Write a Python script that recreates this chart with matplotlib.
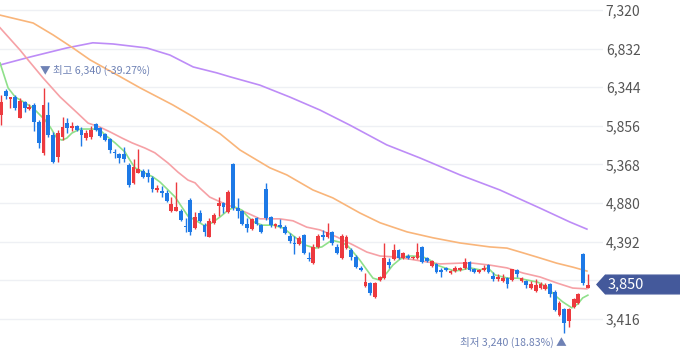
import numpy as np
import matplotlib
matplotlib.use("Agg")
import matplotlib.pyplot as plt

plt.rcParams['font.family'] = ['Noto Sans CJK KR', 'DejaVu Sans']

# daily candles (open / high / low / close)
opens = [5995, 6290, 6195, 6220, 5955, 6155, 6070, 6120, 5905, 5515,
         5995, 5740, 5460, 5715, 5890, 5830, 5855, 5805, 5700, 5715,
         5880, 5830, 5755, 5690, 5525, 5500, 5500, 5360, 5135, 5260,
         5285, 5260, 5195, 5045, 5030, 5005, 4780, 4780, 4780, 4590,
         4920, 4565, 4755, 4600, 4450, 4630, 4845, 4880, 4765, 5375,
         4815, 4780, 4615, 4550, 4690, 4600, 5055, 4705, 4590, 4600,
         4575, 4465, 4375, 4360, 4475, 4185, 4120, 4325, 4475, 4450,
         4515, 4325, 4185, 4310, 4285, 4200, 4060, 3830, 3870, 3690,
         3905, 3930, 4135, 4170, 4285, 4185, 4210, 4185, 4185, 4325,
         4185, 4085, 4110, 4035, 4060, 3995, 4020, 4035, 4060, 4135,
         4045, 4010, 4035, 4095, 3960, 3920, 3895, 3930, 3905, 4035,
         3895, 3895, 3805, 3770, 3805, 3795, 3855, 3755, 3465, 3540,
         3390, 3565, 3615, 4235, 3805]
highs = [6245, 6320, 6225, 6245, 6210, 6170, 6130, 6145, 5930, 6340,
         6155, 5780, 5805, 5970, 5955, 5905, 5865, 5840, 5805, 5855,
         5890, 5840, 5765, 5700, 5565, 5515, 5590, 5385, 5435, 5565,
         5310, 5310, 5220, 5110, 5095, 5045, 4955, 5145, 4805, 4690,
         4945, 4765, 4790, 4630, 4690, 4755, 4955, 4895, 5045, 5385,
         4945, 4790, 4690, 4690, 4705, 4615, 5135, 4715, 4630, 4680,
         4600, 4500, 4465, 4465, 4490, 4260, 4360, 4490, 4540, 4630,
         4525, 4360, 4490, 4475, 4310, 4225, 4085, 3995, 3880, 3880,
         3960, 4375, 4185, 4360, 4300, 4260, 4235, 4210, 4375, 4335,
         4200, 4160, 4120, 4060, 4070, 4035, 4085, 4070, 4185, 4145,
         4060, 4045, 4095, 4110, 4010, 3985, 3985, 3945, 4050, 4040,
         3945, 3905, 3895, 3920, 3880, 3870, 3870, 3780, 3640, 3555,
         3555, 3680, 3740, 4250, 3985]
lows = [5865, 6200, 6080, 6055, 5950, 6030, 6055, 5790, 5575, 5485,
        5715, 5385, 5400, 5675, 5765, 5790, 5790, 5600, 5675, 5690,
        5790, 5715, 5665, 5515, 5450, 5385, 5400, 5085, 5120, 5255,
        5195, 5145, 5020, 5020, 4955, 4895, 4765, 4775, 4655, 4515,
        4475, 4550, 4640, 4465, 4445, 4615, 4715, 4755, 4755, 4790,
        4690, 4600, 4515, 4540, 4600, 4500, 4665, 4575, 4565, 4565,
        4490, 4375, 4235, 4350, 4235, 4145, 4110, 4310, 4410, 4440,
        4350, 4235, 4170, 4300, 4160, 4060, 4020, 3820, 3715, 3680,
        3895, 3920, 4060, 4160, 4170, 4170, 4170, 4170, 4170, 4120,
        4135, 4070, 3995, 3945, 4020, 3985, 4010, 4020, 4045, 4020,
        3995, 3995, 4020, 3995, 3895, 3895, 3880, 3805, 3895, 3945,
        3880, 3805, 3795, 3755, 3795, 3780, 3690, 3515, 3450, 3240,
        3315, 3555, 3605, 3845, 3800]
closes = [6155, 6230, 6220, 6080, 6170, 6080, 6095, 5905, 5640, 6120,
          5740, 5400, 5765, 5840, 5830, 5855, 5805, 5740, 5765, 5805,
          5805, 5730, 5675, 5550, 5515, 5450, 5435, 5110, 5335, 5310,
          5210, 5210, 5055, 5070, 5005, 4905, 4870, 4830, 4665, 4575,
          4515, 4705, 4655, 4515, 4655, 4730, 4880, 4830, 5020, 4815,
          4780, 4615, 4565, 4680, 4615, 4515, 4690, 4600, 4615, 4575,
          4500, 4400, 4360, 4440, 4250, 4170, 4325, 4465, 4450, 4515,
          4375, 4250, 4465, 4450, 4200, 4070, 4035, 3880, 3740, 3870,
          3945, 4185, 4095, 4285, 4185, 4250, 4185, 4200, 4260, 4135,
          4145, 4145, 4010, 4010, 4035, 4020, 4060, 4060, 4135, 4035,
          4010, 4035, 4060, 4010, 3920, 3945, 3930, 3855, 4045, 3985,
          3930, 3845, 3855, 3845, 3855, 3845, 3730, 3530, 3615, 3365,
          3540, 3665, 3730, 3870, 3850]

# moving averages (candle index, price)
ma5_x = [-0.2, 1.5, 3.0, 5.1, 6.8, 8.2, 9.3, 10.4, 11.8, 12.9, 13.9, 15.0, 16.7,
         19.4, 20.9, 22.0, 24.1, 26.2, 27.2, 28.3, 30.4, 32.1, 33.6, 35.3, 36.8,
         38.2, 39.5, 41.0, 43.1, 44.6, 46.3, 48.0, 49.4, 50.9, 52.2, 53.7, 55.3,
         57.5, 59.6, 61.0, 62.1, 64.2, 66.3, 67.8, 69.9, 71.6, 73.1, 74.4, 75.8,
         77.3, 78.6, 80.1, 81.5, 82.8, 84.3, 85.8, 87.0, 89.1, 90.6, 92.1, 93.8,
         95.9, 97.4, 99.1, 101.2, 102.9, 104.4, 107.1, 109.2, 111.3, 113.4, 115.3,
         117.0, 118.7, 120.6, 121.9, 122.9, 124.0]
ma5_y = [6650, 6335, 6220, 6145, 6080, 5995, 5930, 5840, 5700, 5675, 5700, 5765, 5815,
         5815, 5805, 5740, 5640, 5525, 5425, 5325, 5260, 5210, 5145, 5045, 4955,
         4830, 4715, 4665, 4590, 4630, 4705, 4790, 4830, 4790, 4705, 4630, 4600,
         4600, 4565, 4500, 4450, 4350, 4310, 4325, 4410, 4385, 4350, 4260, 4160,
         4035, 3930, 3905, 3995, 4095, 4170, 4210, 4210, 4200, 4160, 4095, 4060,
         4020, 4035, 4060, 4035, 4060, 3970, 3930, 3930, 3905, 3880, 3820,
         3715, 3630, 3555, 3605, 3680, 3715]
ma20_x = [-0.2, 4.0, 5.7, 8.9, 12.5, 16.1, 18.4, 20.9, 23.0, 25.6, 27.7, 30.4, 32.5,
          35.3, 37.4, 39.5, 41.0, 42.0, 44.1, 46.3, 49.0, 52.0, 54.7, 58.9, 61.7,
          64.6, 67.4, 71.0, 74.4, 77.3, 80.1, 82.8, 86.4, 90.0, 92.7, 97.0, 99.7,
          103.3, 106.9, 110.3, 113.9, 117.4, 120.8, 123.8]
ma20_y = [7095, 6815, 6690, 6460, 6220, 6020, 5890, 5840, 5780, 5700, 5640, 5575, 5515,
          5385, 5270, 5170, 5135, 5070, 4955, 4895, 4830, 4755, 4680, 4680, 4655,
          4575, 4540, 4450, 4350, 4260, 4210, 4200, 4170, 4135, 4110, 4120, 4120,
          4095, 4060, 3995, 3945, 3870, 3805, 3795]
ma60_x = [-0.2, 6.8, 11.0, 15.2, 18.8, 24.5, 29.4, 36.3, 40.6, 46.3, 50.5, 56.8,
          60.4, 65.9, 70.1, 75.8, 80.1, 85.8, 91.3, 97.0, 103.3, 106.9, 110.3,
          113.9, 117.4, 120.8, 123.8]
ma60_y = [7255, 7155, 7005, 6840, 6690, 6500, 6335, 6120, 5970, 5755, 5550, 5325,
          5235, 5045, 4945, 4755, 4630, 4515, 4440, 4375, 4325, 4310, 4250,
          4185, 4120, 4070, 4020]
ma120_x = [-0.2, 6.1, 13.9, 19.4, 23.7, 30.8, 35.7, 40.6, 45.6, 48.4, 54.7, 61.0,
           67.4, 73.7, 81.5, 88.5, 97.0, 105.4, 113.9, 120.2, 123.8]
ma120_y = [6625, 6725, 6840, 6905, 6890, 6840, 6750, 6600, 6525, 6475, 6370, 6220,
           6055, 5865, 5615, 5450, 5235, 5045, 4815, 4640, 4550]

yticks = [3416, 3904, 4392, 4880, 5368, 5856, 6344, 6832, 7320]
last_price = 3850

RED = '#ec3a3f'
BLUE = '#1d79e6'

fig = plt.figure(figsize=(6.8, 3.58), dpi=100)
ax = fig.add_axes([0, 0, 603 / 680, 1])

o = np.array(opens); h = np.array(highs); l = np.array(lows); c = np.array(closes)
x = np.arange(len(c))
col = np.where(c >= o, RED, BLUE)

ax.plot(ma120_x, ma120_y, color='#bd8cf7', lw=1.2, zorder=2)
ax.plot(ma60_x, ma60_y, color='#f9b57a', lw=1.2, zorder=2)
ax.plot(ma20_x, ma20_y, color='#f6a1a6', lw=1.2, zorder=2)
ax.plot(ma5_x, ma5_y, color='#8fe08a', lw=1.2, zorder=2)

ax.vlines(x, l, h, colors=col, lw=1, zorder=3)
ax.bar(x, np.maximum(np.abs(c - o), 12), bottom=np.minimum(o, c), width=0.8,
       color=col, linewidth=0, zorder=4)

ax.set_xlim(-0.21, 127.2)
ax.set_ylim(2921, 7446)
for s in ax.spines.values():
    s.set_visible(False)
ax.set_xticks([])
ax.set_yticks(yticks)
ax.set_yticklabels([f'{v:,}' for v in yticks])
ax.yaxis.tick_right()
ax.tick_params(axis='y', length=0, pad=2, labelsize=10, labelcolor='#555555')
ax.grid(axis='y', color='#eef0f4', lw=1)
ax.set_axisbelow(True)

hi = int(np.argmax(h)); lo = int(np.argmin(l))
ax.text(hi - 0.7, 6560, '▼ 최고 6,340 (-39.27%)', ha='left', va='center',
        fontsize=7.6, color='#6f82b5')
ax.text(lo + 0.6, 3120, '최저 3,240 (18.83%) ▲', ha='right', va='center',
        fontsize=7.6, color='#6f82b5')

# current price tag on the axis
tr = ax.get_yaxis_transform()
hh = 118
tag = plt.Polygon([[0.990, last_price], [1.004, last_price + hh], [1.13, last_price + hh],
                   [1.13, last_price - hh], [1.004, last_price - hh]],
                  closed=True, transform=tr, clip_on=False, color='#44599b', zorder=6)
ax.add_patch(tag)
ax.text(1.007, last_price, f'{last_price:,}', transform=tr, ha='left', va='center',
        fontsize=10.5, color='white', zorder=7, clip_on=False)

fig.savefig('out.png', dpi=100)
